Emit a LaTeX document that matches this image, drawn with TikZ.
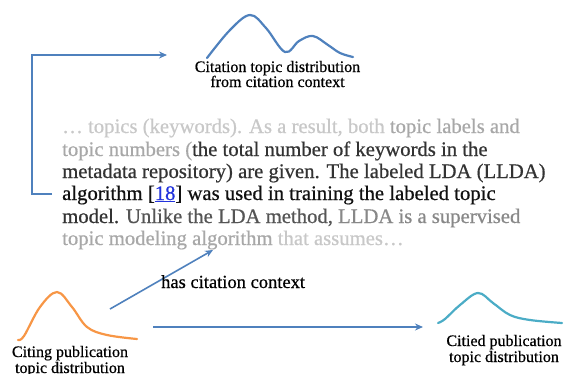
\documentclass[tikz,border=0pt]{standalone}
\usepackage{fontspec}
\setmainfont{Liberation Serif}
\newfontfamily\heavyserif{Liberation Serif}[FakeBold=0.6]
\usetikzlibrary{arrows.meta}
\definecolor{lnblue}{HTML}{4F81BD}
\definecolor{lnorange}{HTML}{F79646}
\definecolor{lnteal}{HTML}{4BACC6}
\definecolor{refblue}{HTML}{2233DD}
\definecolor{g1}{HTML}{C8C8C8}
\definecolor{g2}{HTML}{A8A8A8}
\definecolor{g3}{HTML}{888888}
\definecolor{g4}{HTML}{555555}
\definecolor{g5}{HTML}{333333}
\definecolor{g6}{HTML}{111111}
\tikzset{
  paraline/.style={anchor=base west,inner sep=0pt,font=\heavyserif\fontsize{20.7}{22}\selectfont},
  lbl/.style={anchor=base,inner sep=0pt,font=\heavyserif\fontsize{16}{15}\selectfont},
  conn/.style={draw=lnblue,line width=1.6pt,-{Stealth[length=8pt,width=7pt]}},
  distcurve/.style={line width=2.2pt,line cap=round,line join=round}
}
\begin{document}
\begin{tikzpicture}[x=1pt,y=-1pt]
\useasboundingbox (0,0) rectangle (565,373);
% top distribution
\draw[distcurve,lnblue] plot[smooth,tension=0.6] coordinates {(207,58) (230,30) (250,15) (266,28) (285,52) (299,41) (313,36) (328,45) (340,53) (353,57)};
\node[lbl] (toplbl1) at (277.5,72) {Citation topic distribution};
\node[lbl] (toplbl2) at (277.5,87) {from citation context};
% paragraph
\node[paraline,text=g1] (p1) at (62,133) {… topics (keywords). As a result, both \textcolor{g2}{topic labels and}};
\node[paraline,text=g2] (p2) at (62,156) {topic numbers (\textcolor{g5}{the total number of keywords in the}};
\node[paraline,text=g5] (p3) at (62,178) {metadata repository) are given. The labeled LDA (LLDA)};
\node[paraline,text=g6] (p4) at (62,200) {algorithm [\textcolor{refblue}{\underline{18}}] was used in training the labeled topic};
\node[paraline,text=g5] (p5) at (62,223) {model. \textcolor{g4}{Unlike the LDA method,} \textcolor{g3}{LLDA is a supervised}};
\node[paraline,text=g2] (p6) at (62,245) {topic modeling algorithm \textcolor{g1}{that assumes…}};
% bracket connector
\coordinate (brS) at (52,194);
\coordinate (brT) at (167,55);
\draw[conn] (brS) -- (32,194) |- (brT);
% citing distribution
\draw[distcurve,lnorange] plot[smooth,tension=0.6] coordinates {(18,340) (24,336) (40,307) (57,292) (72,307) (87,327) (107,335) (137,339)};
\node[lbl] (cit1) at (70,357) {Citing publication};
\node[lbl] (cit2) at (70,373) {topic distribution};
% cited distribution
\draw[distcurve,lnteal] plot[smooth,tension=0.6] coordinates {(438,323) (445,319) (460,305) (478,293) (493,303) (510,315) (530,320) (562,323)};
\node[lbl] (ctd1) at (504,346) {Citied publication};
\node[lbl] (ctd2) at (504,362) {topic distribution};
% has citation context
\coordinate (hcS) at (110,309);
\coordinate (hcT) at (213,250);
\draw[conn] (hcS) -- (hcT);
\node[anchor=base west,inner sep=0pt,font=\heavyserif\fontsize{18.5}{20}\selectfont] (hcc) at (161,288) {has citation context};
% main arrow
\coordinate (mS) at (153,327);
\coordinate (mT) at (423,327);
\draw[conn] (mS) -- (mT);
\end{tikzpicture}
\end{document}
